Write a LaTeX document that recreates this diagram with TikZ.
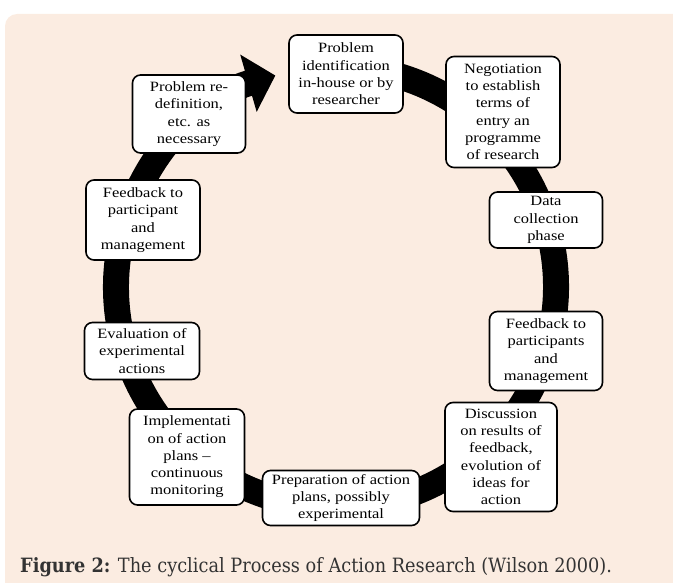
\documentclass[tikz,border=0pt]{standalone}
\usepackage{fontspec}
\setmainfont{Liberation Serif}[FakeStretch=1.16]
\newfontfamily\capfont{DejaVu Serif}[FakeStretch=0.9]
\usetikzlibrary{arrows.meta}
\definecolor{peach}{RGB}{251,236,225}
\definecolor{captext}{RGB}{51,51,51}
\tikzset{
  stage/.style={draw=black, line width=1.6pt, fill=white, rounded corners=8pt,
    align=center, inner sep=2pt, font=\fontsize{14.2}{17.3}\selectfont},
  ring/.style={line width=26pt, -{Triangle[width=58pt,length=28pt]}}
}
\begin{document}
\begin{tikzpicture}[x=1pt,y=-1pt]
\useasboundingbox (0,0) rectangle (673,583);
\fill[peach, rounded corners=12pt] (5,14) rectangle (685,595);
\coordinate (c) at (336,287);
\draw[ring] (c) ++(-80:220) arc[start angle=-80, end angle=254, radius=220];
\node[stage, minimum width=114pt, minimum height=78pt] (probid) at (346,74) {Problem\\identification\\in-house or by\\researcher};
\node[stage, minimum width=114pt, minimum height=111pt] (negot) at (503,112) {Negotiation\\to establish\\terms of\\entry an\\programme\\of research};
\node[stage, minimum width=113pt, minimum height=56pt] (data) at (546,220) {Data\\collection\\phase};
\node[stage, minimum width=113pt, minimum height=79pt] (fbp) at (546,351) {Feedback to\\participants\\and\\management};
\node[stage, minimum width=112pt, minimum height=109pt] (disc) at (501,457) {Discussion\\on results of\\feedback,\\evolution of\\ideas for\\action};
\node[stage, minimum width=157pt, minimum height=55pt] (prep) at (341,498) {Preparation of action\\plans, possibly\\experimental};
\node[stage, minimum width=115pt, minimum height=96pt] (impl) at (187,457) {Implementati\\on of action\\plans --\\continuous\\monitoring};
\node[stage, minimum width=115pt, minimum height=57pt] (eval) at (142,351) {Evaluation of\\experimental\\actions};
\node[stage, minimum width=114pt, minimum height=80pt] (fbm) at (143,220) {Feedback to\\participant\\and\\management};
\node[stage, minimum width=113pt, minimum height=78pt] (redef) at (189,114) {Problem re-\\definition,\\etc. as\\necessary};
\node[anchor=base west, inner sep=0pt, text=captext, font=\capfont\fontsize{19.7}{23}\selectfont] (cap) at (20,572) {\textbf{Figure 2:} The cyclical Process of Action Research (Wilson 2000).};
\end{tikzpicture}
\end{document}
